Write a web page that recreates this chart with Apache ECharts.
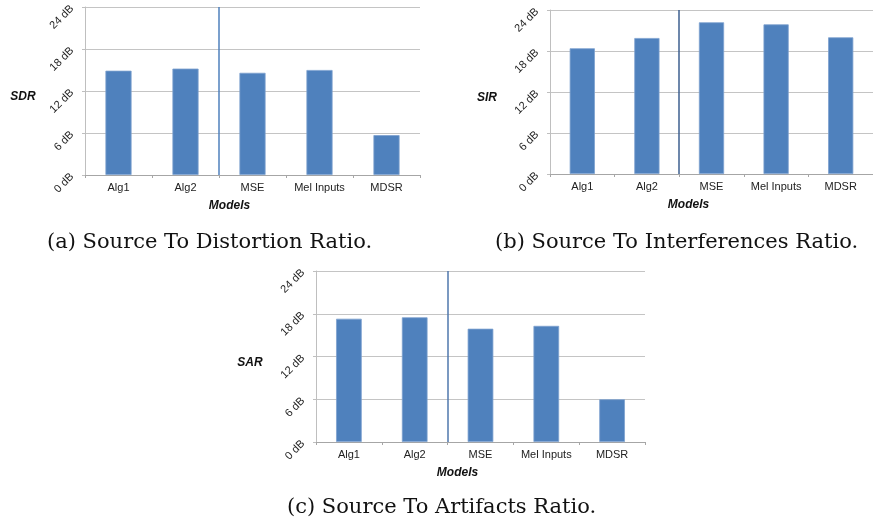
<!DOCTYPE html>
<html>
<head>
<meta charset="utf-8">
<script src="https://cdn.jsdelivr.net/npm/echarts@6/dist/echarts.min.js"></script>
<style>html,body{margin:0;padding:0;background:#fff;}#c{width:873px;height:525px;}</style>
</head>
<body>
<div id="c"></div>
<script>
var categories = ['Alg1', 'Alg2', 'MSE', 'Mel Inputs', 'MDSR'];
var sdrValues = [14.9, 15.2, 14.6, 15.0, 5.7];
var sirValues = [18.4, 19.9, 22.2, 21.9, 20.0];
var sarValues = [17.3, 17.5, 15.9, 16.3, 6.0];
var yTicks = [0, 6, 12, 18, 24];
var metricNames = ['SDR', 'SIR', 'SAR'];
var captions = ['(a) Source To Distortion Ratio.', '(b) Source To Interferences Ratio.', '(c) Source To Artifacts Ratio.'];

var allValues = [sdrValues, sirValues, sarValues];
var grids = [
  {left: 85, right: 453, top: 7, bottom: 350},
  {left: 550, right: -7, top: 10, bottom: 351},
  {left: 316, right: 228, top: 271, bottom: 83}
];
var sepColors = ['#4f81bd', '#3d5f8f', '#4f77ad'];
var nameGaps = [62, 63, 66];

var xAxes = [], yAxes = [], series = [];
for (var i = 0; i < 3; i++) {
  var t = 'rgba(0,0,0,0)';
  xAxes.push({
    type: 'category', gridIndex: i, data: categories,
    axisLine: {lineStyle: {color: '#a6a6a6', width: 1}},
    axisTick: {show: true, length: 3, interval: 0, lineStyle: {color: '#a6a6a6'}},
    axisLabel: {interval: 0, color: '#222', fontSize: 11, fontFamily: 'Liberation Sans', margin: 7},
    splitLine: {show: true, interval: 0,
      lineStyle: {color: [t, t, sepColors[i], t, t, t], width: 1.5}},
    name: 'Models', nameLocation: 'middle', nameGap: 25,
    nameTextStyle: {fontSize: 12, fontWeight: 'bold', fontStyle: 'italic', fontFamily: 'Liberation Sans', color: '#111', padding: [0, 46, 0, 0]}
  });
  yAxes.push({
    type: 'value', gridIndex: i, min: yTicks[0], max: yTicks[yTicks.length - 1], interval: yTicks[1] - yTicks[0],
    axisLine: {show: true, lineStyle: {color: '#bfbfbf'}},
    axisTick: {show: true, length: 3, lineStyle: {color: '#bfbfbf'}},
    axisLabel: {rotate: 45, formatter: '{value} dB', color: '#222', fontSize: 11, fontFamily: 'Liberation Sans', margin: 13, padding: [8, 0, 0, 0]},
    splitLine: {lineStyle: {color: '#c4c4c4', width: 1}},
    name: metricNames[i], nameLocation: 'middle', nameRotate: 0, nameGap: nameGaps[i],
    nameTextStyle: {fontSize: 12, fontWeight: 'bold', fontStyle: 'italic', fontFamily: 'Liberation Sans', color: '#111', align: 'center', verticalAlign: 'top'}
  });
  series.push({
    type: 'bar', xAxisIndex: i, yAxisIndex: i, data: allValues[i], barWidth: '39%',
    itemStyle: {color: '#4f81bd', borderColor: '#7ea1cf', borderWidth: 0.8},
    silent: true
  });
}

var titles = [
  {text: captions[0], left: 47, top: 232},
  {text: captions[1], left: 495, top: 232},
  {text: captions[2], left: 287, top: 497}
].map(function (t) {
  t.padding = 0;
  t.textStyle = {fontFamily: 'DejaVu Serif', fontSize: 21, fontWeight: 'normal', color: '#111'};
  return t;
});

var chart = echarts.init(document.getElementById('c'), null, {renderer: 'canvas'});
chart.setOption({
  animation: false,
  backgroundColor: '#fff',
  title: titles,
  grid: grids,
  xAxis: xAxes,
  yAxis: yAxes,
  series: series
});
</script>
</body>
</html>
